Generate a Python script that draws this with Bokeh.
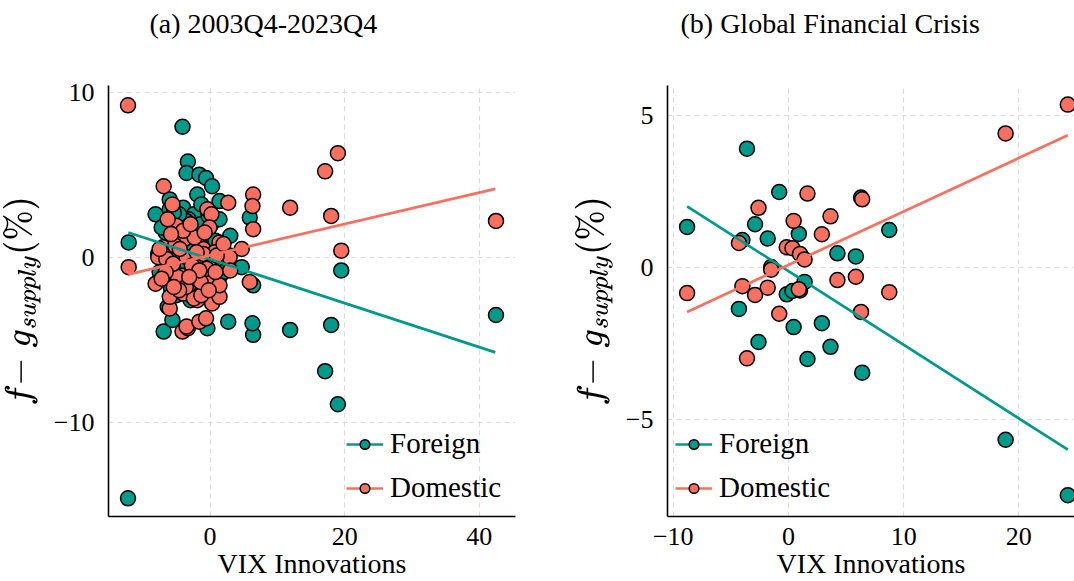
from bokeh.plotting import figure
from bokeh.layouts import row
from bokeh.models import ColumnDataSource, Range1d, FixedTicker, Legend, LegendItem, Title
from bokeh.embed import file_html
from bokeh.resources import INLINE

# ---------------- Panel (a): 2003Q4-2023Q4 ----------------
vix_a = [-12.1, -12.2, 17.1, 18.0, 19.0, 19.5, 42.5, 11.9, 6.4, 6.3,
         6.4, 5.9, 4.7, 2.7, -6.9, -4.1, -3.3, -3.5, -1.6, -0.6,
         0.3, -1.9, -6.0, -5.6, 1.4, -8.1, -4.0, -2.4, -0.4, 0.2,
         -5.0, -0.1, -6.3, -3.8, -2.0, 1.4, -7.0, -5.2, -1.0, 0.7,
         2.9, -7.7, -6.5, -3.5, -6.0, -4.3, -3.0, -1.0, 0.2, 1.4,
         -5.2, -6.0, -1.3, -7.5, -4.5, -2.3, -1.0, -0.1, -4.8, -3.2,
         -5.5, -2.7, -0.5, 1.0, -6.6, -2.0, -4.0, -5.8, -0.8, 2.0,
         -3.6, -4.6, -1.4, 0.8, -7.2, -2.9, -1.6, -5.4, -3.1, -0.2, 3.0]
foreign_a = [0.9, -14.6, -6.9, -4.1, -8.9, -0.8, -3.5, -4.4, -4.7, -4.0,
             -1.7, 2.4, -0.6, -3.9, -4.5, 7.9, 5.8, 5.1, 5.0, 4.8,
             4.3, 3.8, 3.5, -3.8, 3.4, 2.6, 3.0, 2.6, -4.3, -2.4,
             -2.3, -2.4, -3.0, -1.3, -1.5, -1.2, -0.8, -1.0, -0.6, -0.4,
             0.1, 0.2, 0.3, 0.1, 1.0, 1.5, 1.7, 1.4, 2.0, 2.3,
             2.2, 2.9, 3.2, -0.9, -0.7, -1.4, -0.4, 1.2, 1.9, 2.3,
             0.5, 0.6, 0.8, -0.2, 1.5, -0.2, -1.8, -1.9, -2.0, -0.9,
             2.2, 2.6, 2.0, 1.0, 1.8, -2.6, 0.9, 2.7, 1.6, 2.5, 1.3]
domestic_a = [-0.6, 9.2, 5.2, 2.5, 6.3, 0.4, 2.2, 3.0, 3.8, 3.1,
              1.7, -1.5, 0.5, 3.3, 4.3, -4.5, -4.3, -4.2, -3.9, -3.7,
              -2.8, -2.6, -3.1, 3.2, -2.4, -1.6, -2.2, -2.5, 2.9, 2.6,
              1.9, 1.8, 2.3, 1.1, 1.1, 0.9, 0.6, 0.7, 0.5, 0.3,
              0.0, 0.0, -0.1, 0.0, -0.8, -1.1, -1.3, -1.1, -1.4, -1.7,
              -1.7, -2.4, -2.3, 0.5, 0.5, 1.2, 0.2, -0.6, -1.2, -1.7,
              -0.4, -0.5, -0.7, 0.1, -0.9, 0.3, 1.6, 1.4, 1.5, 0.8,
              -1.8, -2.0, -1.5, -0.9, -1.3, 2.0, -0.8, -1.8, -1.2, -2.0, -0.8]
fit_x_a = [-12.15, 42.4]
fit_foreign_a = [1.5, -5.76]
fit_domestic_a = [-1.04, 4.14]

# ---------------- Panel (b): Global Financial Crisis ----------------
vix_b = [-8.8, -4.3, -4.0, -3.6, -2.9, -2.6, -1.8, -1.5, -0.8, -0.15,
         0.35, 0.45, 0.9, 1.0, 1.4, 1.65, 2.9, 3.65, 4.25, 5.85,
         6.3, 6.4, 8.75, 18.85, 24.25]
foreign_b = [1.34, -1.36, 0.91, 3.92, 1.43, -2.45, 0.96, 0.02, 2.49, -0.88,
             -0.77, -1.96, 1.11, -0.75, -0.47, -3.01, -1.83, -2.61, 0.47, 0.37,
             2.31, -3.46, 1.24, -5.67, -7.5]
domestic_b = [-0.84, 0.81, -0.61, -2.99, -0.9, 1.97, -0.66, -0.07, -1.52, 0.67,
              0.64, 1.54, -0.71, 0.45, 0.27, 2.44, 1.1, 1.69, -0.41, -0.30,
              -1.46, 2.25, -0.81, 4.42, 5.37]
fit_x_b = [-8.8, 24.25]
fit_foreign_b = [2.02, -6.0]
fit_domestic_b = [-1.46, 4.36]

xticks_a = [0, 20, 40]
yticks_a = [-10, 0, 10]
xticks_b = [-10, 0, 10, 20]
yticks_b = [-5, 0, 5]
series_names = ["Foreign", "Domestic"]

TEAL = "#009a8a"
SALMON = "#fa7060"
FONT = "Liberation Serif"


def fmt(t):
    return ("\u2212" + str(abs(t))) if t < 0 else str(t)


def make_panel(title, vix, foreign, domestic, fit_x, fit_f, fit_d,
               xr, yr, xticks, yticks, width, bl, br, title_offset, legend_x):
    p = figure(width=width, height=581, x_range=Range1d(*xr), y_range=Range1d(*yr),
               output_backend="svg", toolbar_location=None, title=None,
               min_border_left=bl, min_border_right=br,
               min_border_top=83, min_border_bottom=63)
    p.outline_line_color = None
    p.background_fill_color = "white"
    p.border_fill_color = "white"

    # spacer (closest to frame), then the real title above it
    p.add_layout(Title(text=" ", text_font_size="1px", standoff=39), "above")
    p.add_layout(Title(text=title, text_font=FONT, text_font_size="28px",
                       text_font_style="normal", text_color="black",
                       align="left", offset=title_offset, standoff=10), "above")

    for ax in (p.xaxis, p.yaxis):
        ax.axis_line_color = "black"
        ax.axis_line_width = 1.6
        ax.major_tick_line_color = None
        ax.minor_tick_line_color = None
        ax.major_label_text_font = FONT
        ax.major_label_text_font_size = "26px"
        ax.major_label_text_color = "black"
    p.xaxis.ticker = FixedTicker(ticks=xticks)
    p.yaxis.ticker = FixedTicker(ticks=yticks)
    p.xaxis.major_label_overrides = {t: fmt(t) for t in xticks}
    p.yaxis.major_label_overrides = {t: fmt(t) for t in yticks}
    p.xaxis.major_label_standoff = 5
    p.yaxis.major_label_standoff = 8

    p.xaxis.axis_label = "VIX Innovations"
    p.xaxis.axis_label_text_font = FONT
    p.xaxis.axis_label_text_font_size = "28px"
    p.xaxis.axis_label_text_font_style = "normal"
    p.xaxis.axis_label_text_color = "black"
    p.xaxis.axis_label_standoff = 0

    p.yaxis.axis_label = r"$$f{-}\;g_{supply}(\%)$$"
    p.yaxis.axis_label_text_font_size = "30px"
    p.yaxis.axis_label_standoff = 10
    p.yaxis.axis_label_text_color = "black"

    p.xgrid.ticker = FixedTicker(ticks=xticks)
    p.ygrid.ticker = FixedTicker(ticks=yticks)
    for g in (p.xgrid, p.ygrid):
        g.grid_line_color = "#dcdcdc"
        g.grid_line_dash = "5 4"
        g.grid_line_width = 1.2

    src = ColumnDataSource(dict(x=vix, f=foreign, d=domestic))
    fit = ColumnDataSource(dict(x=fit_x, f=fit_f, d=fit_d))
    sf = p.scatter("x", "f", source=src, size=15, fill_color=TEAL, line_color="black", line_width=1.5)
    sd = p.scatter("x", "d", source=src, size=15, fill_color=SALMON, line_color="black", line_width=1.5)
    lf = p.line("x", "f", source=fit, line_color=TEAL, line_width=2.7)
    ld = p.line("x", "d", source=fit, line_color=SALMON, line_width=2.7)

    legend = Legend(items=[LegendItem(label=series_names[0], renderers=[lf, sf]),
                           LegendItem(label=series_names[1], renderers=[ld, sd])],
                    location=(legend_x, 12), padding=0, margin=0, spacing=11,
                    glyph_width=37, glyph_height=24, label_height=24, label_standoff=7,
                    label_text_font=FONT, label_text_font_size="29px",
                    label_text_color="black",
                    border_line_color=None, background_fill_alpha=0)
    p.add_layout(legend, "center")
    return p


pa = make_panel("(a) 2003Q4-2023Q4", vix_a, foreign_a, domestic_a,
                fit_x_a, fit_foreign_a, fit_domestic_a,
                (-15.1, 45.4), (-15.7, 10.4), xticks_a, yticks_a,
                538, 107, 23, 41, 238)
pb = make_panel("(b) Global Financial Crisis", vix_b, foreign_b, domestic_b,
                fit_x_b, fit_foreign_b, fit_domestic_b,
                (-10.5, 24.83), (-8.2, 6.0), xticks_b, yticks_b,
                536, 129, 0, 13, 8)

layout = row(pa, pb)
open("out.html", "w").write(file_html(layout, INLINE))
